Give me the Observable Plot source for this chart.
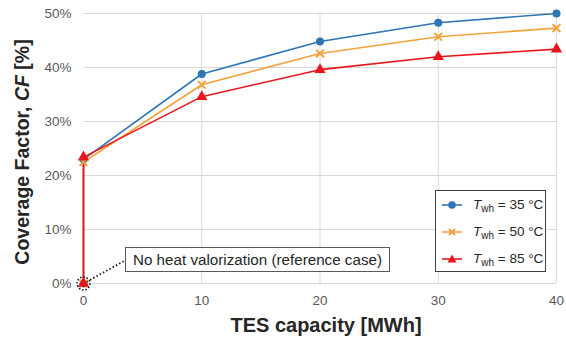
<!DOCTYPE html>
<html><head><meta charset="utf-8">
<script src="https://cdn.jsdelivr.net/npm/d3@7"></script>
<script src="https://cdn.jsdelivr.net/npm/@observablehq/plot@0.6"></script>
<style>
body{margin:0;background:#fff;font-family:"Liberation Sans",Arial,sans-serif;}
#wrap{position:relative;width:566px;height:340px;overflow:hidden;background:#fff}
.ytitle{position:absolute;left:22px;top:152px;transform:translate(-50%,-50%) rotate(-90deg);white-space:nowrap;font-weight:bold;font-size:19.5px;color:#262626}
.xtitle{position:absolute;left:326px;top:325px;transform:translate(-50%,-50%);white-space:nowrap;font-weight:bold;font-size:20px;color:#262626}
.legend{position:absolute;left:435px;top:190px;width:109px;height:80px;border:1.5px solid #404040;background:#fff;box-sizing:content-box}
.legend .row{position:absolute;left:0;height:20px;display:flex;align-items:center;font-size:13.5px;color:#262626;white-space:nowrap}
.legend sub{font-size:10px;vertical-align:-3px}
.annot{position:absolute;height:25px;border:1.3px solid #595959;background:#fff;font-size:15.2px;color:#262626;white-space:nowrap;display:flex;align-items:center;padding:0 7px;box-sizing:border-box}
</style></head><body><div id="wrap"></div>
<script>
// Data
const capacities = [0, 0, 10, 20, 30, 40];          // TES capacity [MWh]
const cf35 = [0, 23.0, 38.8, 44.8, 48.3, 50.0];     // Twh = 35 °C, CF [%]
const cf50 = [0, 22.5, 36.8, 42.6, 45.7, 47.3];     // Twh = 50 °C
const cf85 = [0, 23.4, 34.6, 39.6, 42.0, 43.4];     // Twh = 85 °C
const seriesTemps = ["35", "50", "85"];
const seriesColors = ["#2e75b6", "#f2a23a", "#e8161c"];
const seriesSymbols = ["circle", "times", "triangle"];
const xTicks = [0, 10, 20, 30, 40];
const yTicks = [0, 10, 20, 30, 40, 50];
const annotationText = "No heat valorization (reference case)";
const annotationPoint = [{x: 0, y: 0}];
const annotationLabel = [{x: 3.55, y: 4.3}];

const seriesValues = [cf35, cf50, cf85];
const series = seriesTemps.map((t, i) => capacities.map((c, j) => ({cap: c, cf: seriesValues[i][j], s: t})));

const marks = [
  Plot.gridY(yTicks, {stroke: "#d9d9d9", strokeOpacity: 1, strokeWidth: 1}),
  Plot.gridX(xTicks.slice(1), {stroke: "#d9d9d9", strokeOpacity: 1, strokeWidth: 1}),
  Plot.axisX(xTicks, {tickSize: 0, tickPadding: 12, fontSize: 13.5, fill: "#595959", label: null}),
  Plot.axisY(yTicks, {tickSize: 0, tickPadding: 12, fontSize: 13.5, fill: "#595959", label: null, tickFormat: d => d + "%"}),
  Plot.link(annotationPoint, {x1: "x", y1: "y", x2: () => annotationLabel[0].x, y2: () => annotationLabel[0].y, stroke: "#1a1a1a", strokeWidth: 1.8, strokeDasharray: "1.5,2.2"})
];
series.forEach((d, i) => {
  marks.push(Plot.line(d, {x: "cap", y: "cf", stroke: seriesColors[i], strokeWidth: 1.6}));
});
series.forEach((d, i) => {
  if (seriesSymbols[i] === "times") {
    marks.push(Plot.dot(d, {x: "cap", y: "cf", symbol: "times", r: 3.6, stroke: seriesColors[i], strokeWidth: 2}));
  } else {
    marks.push(Plot.dot(d, {x: "cap", y: "cf", symbol: seriesSymbols[i], r: seriesSymbols[i] === "triangle" ? 4.2 : 4, fill: seriesColors[i], stroke: "none"}));
  }
});
marks.push(Plot.dot(annotationPoint, {x: "x", y: "y", r: 6.5, stroke: "#1a1a1a", fill: "none", strokeWidth: 1.6, strokeDasharray: "1.5,1.8"}));

const chart = Plot.plot({
  width: 566, height: 340,
  marginLeft: 83, marginRight: 10, marginTop: 13, marginBottom: 57,
  style: {fontFamily: "'Liberation Sans', Arial, sans-serif", background: "#fff", overflow: "visible"},
  x: {domain: [0, 40]},
  y: {domain: [0, 50]},
  marks
});
const wrap = document.getElementById("wrap");
wrap.appendChild(chart);

// Titles
const yt = document.createElement("div"); yt.className = "ytitle";
yt.innerHTML = "Coverage Factor, <i>CF</i> [%]"; wrap.appendChild(yt);
const xt = document.createElement("div"); xt.className = "xtitle";
xt.textContent = "TES capacity [MWh]"; wrap.appendChild(xt);

// Annotation box positioned via the scales
const sx = chart.scale("x"), sy = chart.scale("y");
const an = document.createElement("div"); an.className = "annot";
an.textContent = annotationText;
an.style.left = sx.apply(annotationLabel[0].x) + "px";
an.style.top = (sy.apply(annotationLabel[0].y) - 12.5) + "px";
wrap.appendChild(an);

// Legend
const lg = document.createElement("div"); lg.className = "legend";
seriesTemps.forEach((t, i) => {
  const row = document.createElement("div"); row.className = "row";
  row.style.top = (4 + i * 27) + "px";
  let sym;
  if (seriesSymbols[i] === "circle") sym = `<circle cx="10" cy="6" r="3.8" fill="${seriesColors[i]}"/>`;
  else if (seriesSymbols[i] === "times") sym = `<path d="M7,3L13,9M13,3L7,9" stroke="${seriesColors[i]}" stroke-width="2"/>`;
  else sym = `<path d="M10,1.5L14.5,9.5L5.5,9.5Z" fill="${seriesColors[i]}"/>`;
  row.innerHTML = `<svg width="20" height="12" style="margin-left:6px;margin-right:11px"><line x1="0" y1="6" x2="20" y2="6" stroke="${seriesColors[i]}" stroke-width="1.6"/>${sym}</svg><span><i>T</i><sub>wh</sub> = ${t} °C</span>`;
  lg.appendChild(row);
});
wrap.appendChild(lg);
</script></body></html>
